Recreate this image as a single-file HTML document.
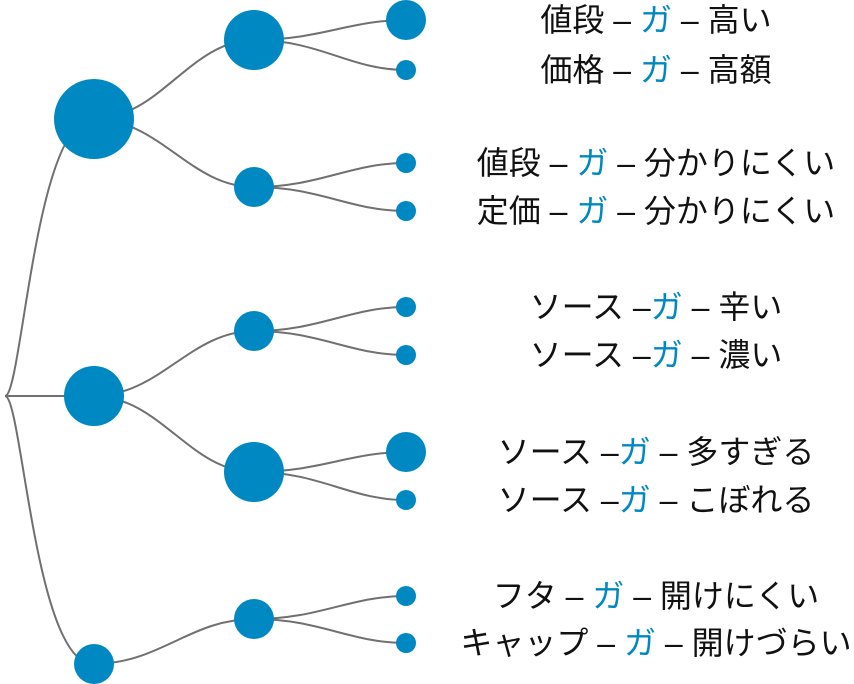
<!DOCTYPE html>
<html><head><meta charset="utf-8"><style>
body{margin:0;background:#fff;width:854px;height:684px;overflow:hidden}
svg{position:absolute;left:0;top:0}
text{font-family:"Liberation Sans","Noto Sans CJK JP",sans-serif;font-size:32px;fill:#111;text-anchor:middle;dominant-baseline:central}
.b{fill:#0088c2}
</style></head><body>
<svg width="854" height="684" viewBox="0 0 854 684">
<g fill="none" stroke="#707070" stroke-width="2">
<path d="M5,396 C22,396 35,119 93,119"/>
<path d="M5,396 L93,396"/>
<path d="M5,396 C22,396 35,664 93,664"/>
<path d="M93,119 C160,119 190,40 254,40"/>
<path d="M93,119 C160,119 190,187 254,187"/>
<path d="M93,396 C160,396 190,331 254,331"/>
<path d="M93,396 C160,396 190,472 254,472"/>
<path d="M93,664 C160,664 190,619 254,619"/>
<path d="M254,40 C320,40 350,20 406,20"/>
<path d="M254,40 C320,40 350,70 406,70"/>
<path d="M254,187 C320,187 350,163 406,163"/>
<path d="M254,187 C320,187 350,211 406,211"/>
<path d="M254,331 C320,331 350,307 406,307"/>
<path d="M254,331 C320,331 350,355 406,355"/>
<path d="M254,472 C320,472 350,452 406,452"/>
<path d="M254,472 C320,472 350,500 406,500"/>
<path d="M254,619 C320,619 350,596 406,596"/>
<path d="M254,619 C320,619 350,643 406,643"/>
</g>
<g fill="#0088c2">
<circle cx="94" cy="119" r="40"/>
<circle cx="94" cy="396" r="30"/>
<circle cx="94" cy="664" r="20"/>
<circle cx="254" cy="40" r="30"/>
<circle cx="254" cy="187" r="20"/>
<circle cx="254" cy="331" r="20"/>
<circle cx="254" cy="472" r="30"/>
<circle cx="254" cy="619" r="20"/>
<circle cx="406" cy="20" r="20"/>
<circle cx="406" cy="70" r="10"/>
<circle cx="406" cy="163" r="10"/>
<circle cx="406" cy="211" r="10"/>
<circle cx="406" cy="307" r="10"/>
<circle cx="406" cy="355" r="10"/>
<circle cx="406" cy="452" r="20"/>
<circle cx="406" cy="500" r="10"/>
<circle cx="406" cy="596" r="10"/>
<circle cx="406" cy="643" r="10"/>
</g>
<text x="656" y="20">値段 – <tspan class="b">ガ</tspan> – 高い</text>
<text x="656" y="70">価格 – <tspan class="b">ガ</tspan> – 高額</text>
<text x="656" y="163">値段 – <tspan class="b">ガ</tspan> – 分かりにくい</text>
<text x="656" y="211">定価 – <tspan class="b">ガ</tspan> – 分かりにくい</text>
<text x="656" y="307">ソース –<tspan class="b">ガ</tspan> – 辛い</text>
<text x="656" y="355">ソース –<tspan class="b">ガ</tspan> – 濃い</text>
<text x="656" y="452">ソース –<tspan class="b">ガ</tspan> – 多すぎる</text>
<text x="656" y="500">ソース –<tspan class="b">ガ</tspan> – こぼれる</text>
<text x="656" y="596">フタ – <tspan class="b">ガ</tspan> – 開けにくい</text>
<text x="656" y="643">キャップ – <tspan class="b">ガ</tspan> – 開けづらい</text>
</svg>
</body></html>
